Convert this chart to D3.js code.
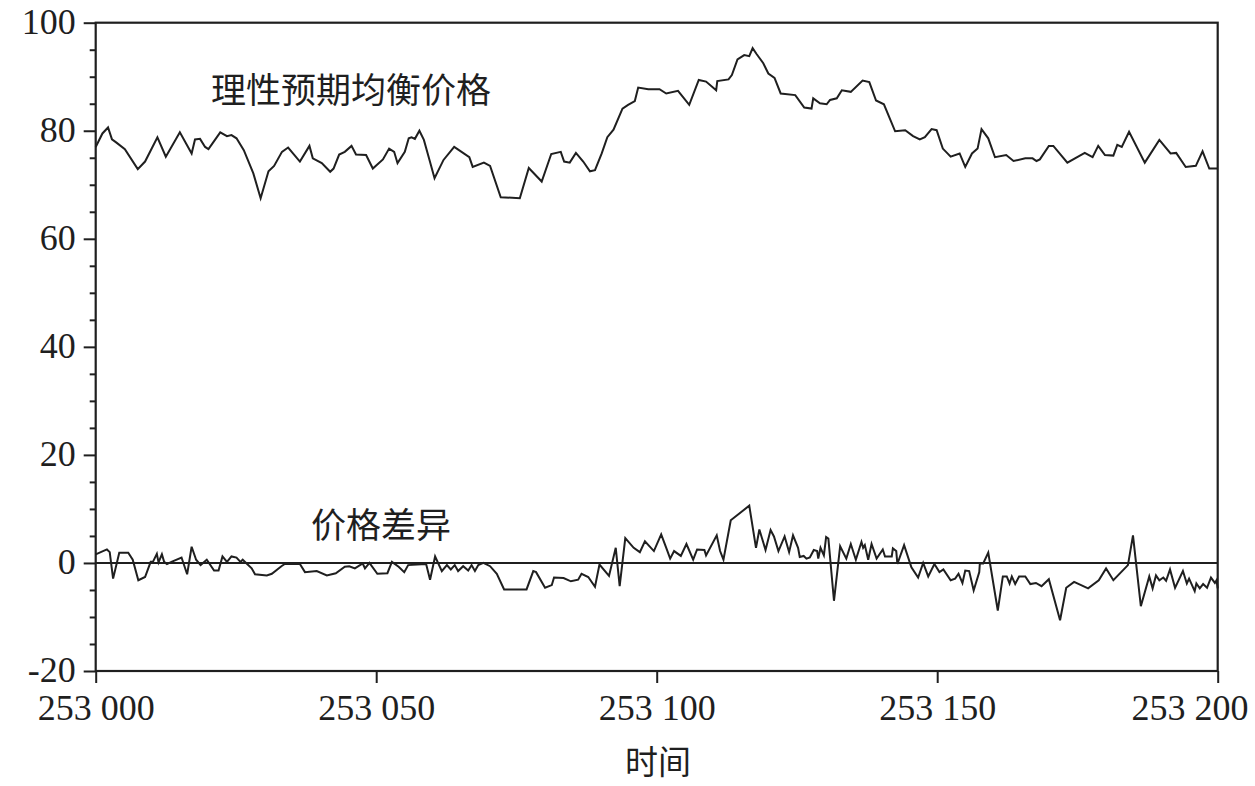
<!DOCTYPE html>
<html>
<head>
<meta charset="utf-8">
<script src="https://cdn.jsdelivr.net/npm/d3@7"></script>
<style>
  html, body { margin: 0; padding: 0; background: #fff; }
  svg { display: block; }
</style>
</head>
<body>
<svg id="chart" width="1255" height="786"></svg>
<script>
// ---------- data ----------
const upperTime = [253000,253001.2,253002.2,253002.9,253003.7,253005.2,253007.5,253008.8,253011,253012.5,253015,253017.1,253017.7,253018.6,253019.5,253020.1,253022.2,253023.4,253024.2,253025.1,253026.4,253028.1,253029.4,253030.8,253031.8,253033.2,253034.3,253036.4,253038.1,253038.7,253040.3,253041.8,253042.4,253043.4,253044.4,253045.6,253046.4,253048.2,253049.4,253051.2,253052.3,253053.2,253053.8,253055.1,253055.8,253056.3,253056.9,253057.7,253058.5,253059.5,253060.4,253062,253063.9,253066.6,253067.2,253069.2,253070.3,253072.2,253075.6,253077.2,253079.5,253081.2,253082.9,253083.5,253084.5,253085.6,253086.9,253088.1,253089,253090.2,253091.2,253092.3,253093.9,253094.9,253096.1,253096.7,253098.5,253100.5,253101.7,253103.8,253105.8,253107.5,253108.8,253110.6,253110.8,253112.8,253113.4,253114.4,253115.6,253116.5,253117.1,253117.8,253119,253119.9,253121,253122.1,253124.7,253126.3,253127.6,253127.9,253129.1,253130.3,253130.9,253132.1,253133,253134.6,253136.7,253137.9,253139.1,253140.5,253142.5,253144.3,253145.7,253146.9,253147.8,253149,253149.9,253151,253152.4,253154,253155,253156.2,253157.2,253157.9,253159.1,253160.3,253162.3,253163.6,253165.7,253167,253167.7,253168.3,253169.9,253170.7,253173.2,253176.3,253177.7,253178.7,253179.9,253181.4,253182.1,253182.9,253184.2,253187,253189.6,253191.6,253192.6,253194.3,253196.1,253197.3,253198.5,253200];
const upperValue = [77.0,79.5,80.6,78.4,77.8,76.6,72.9,74.3,78.8,75.2,79.7,75.8,78.4,78.5,77.0,76.6,79.7,79.0,79.2,78.6,76.4,72.1,67.5,72.5,73.5,76.1,76.9,74.3,77.2,74.9,74.0,72.4,73.0,75.6,76.1,77.2,75.6,75.5,73.0,74.7,76.7,76.1,74.0,76.1,78.6,78.8,78.5,80.0,78.3,74.6,71.2,74.6,77.0,75.1,73.3,74.1,73.5,67.7,67.5,73.1,70.6,75.7,76.1,74.3,74.1,75.9,74.3,72.5,72.7,75.8,78.8,80.2,84.1,84.8,85.5,88.0,87.7,87.7,86.9,87.4,84.8,89.4,89.1,87.5,89.2,89.5,90.3,93.2,94.0,93.8,95.3,94.2,92.5,90.6,89.8,86.9,86.6,84.3,84.1,86.0,85.1,84.9,85.7,86.0,87.5,87.2,89.3,89.0,85.6,84.9,79.9,80.1,79.0,78.4,78.8,80.3,80.1,76.7,75.2,75.8,73.3,75.8,76.7,80.3,78.6,75.1,75.5,74.4,74.9,74.9,74.4,74.7,77.2,77.2,74.1,75.9,75.1,77.2,75.5,75.4,77.4,77.0,79.8,74.1,78.3,75.8,75.9,73.3,73.5,76.2,73.0,73.0];

const diffTime = [253000,253002,253002.5,253003.1,253004.2,253005.8,253006.6,253007.6,253008.8,253009.8,253010.2,253010.9,253011.2,253011.8,253012.2,253012.7,253013.5,253015.3,253016.3,253017.1,253017.9,253018.7,253019.8,253021.1,253021.9,253022.6,253023.4,253024.2,253025.1,253025.8,253026.2,253026.9,253027.8,253028.4,253030.5,253031.4,253033.1,253033.7,253036.4,253037.3,253039.4,253041.2,253042.8,253044.4,253045.2,253046.2,253047.6,253048,253048.8,253050.2,253052,253052.8,253054,253055,253055.7,253058.9,253059.6,253060.5,253061.7,253062.6,253063.3,253064,253064.6,253065.5,253066.4,253067,253067.6,253068.2,253069.1,253070.3,253071.5,253072.8,253076.8,253078,253078.5,253080.1,253081.3,253081.7,253083.4,253084.7,253086,253086.6,253087.8,253089,253089.8,253091.5,253092.7,253093.4,253094.4,253095.9,253097,253097.9,253099.5,253100.8,253101.8,253102.4,253103.1,253104.3,253105.3,253106.5,253107.2,253108.5,253108.8,253110.7,253111.3,253111.9,253113.2,253116.5,253117.7,253118.3,253119.4,253120.3,253120.9,253121.7,253122.8,253123.6,253124.3,253125.2,253125.5,253126.2,253126.7,253127.3,253128,253128.6,253128.8,253129.2,253129.8,253130.2,253130.6,253131.6,253132.7,253133.8,253134.6,253135.5,253136.5,253136.8,253137.1,253137.7,253138.3,253139.2,253140.3,253140.7,253141.9,253142.1,253142.7,253142.9,253144.1,253145.4,253146.6,253147.5,253148.4,253149.5,253150.4,253151.1,253152.4,253153.2,253153.8,253154.5,253155,253155.7,253156.5,253157.5,253157.6,253158.2,253159.1,253160.8,253161.7,253162.4,253162.9,253163.3,253163.9,253164.6,253165.7,253166.6,253167.6,253168.6,253169.9,253171.9,253173,253174.4,253176.9,253178.8,253180.1,253181.4,253184,253184.9,253186.3,253187.8,253188.4,253189,253189.6,253190.3,253190.8,253191.5,253192.4,253193.8,253194.5,253194.9,253195.9,253196.2,253196.8,253197.4,253198.1,253198.8,253199.5,253199.8,253200];
const diffValue = [1.6,2.5,2.0,-2.9,1.9,1.9,0.6,-3.2,-2.6,0.2,0.2,1.7,0.1,1.6,0.2,-0.2,0.2,1.0,-2.1,3.0,0.6,-0.4,0.6,-1.4,-1.4,1.2,0.2,1.2,1.0,0.2,0.6,-0.1,-1.0,-2.1,-2.3,-2.0,-0.6,-0.2,-0.2,-1.7,-1.5,-2.3,-1.9,-0.7,-0.6,-1.0,-0.1,-1.0,0.0,-2.0,-1.9,0.2,-0.7,-1.7,-0.4,-0.2,-3.1,1.2,-1.5,-0.4,-1.2,-0.4,-1.5,-0.6,-1.4,-0.4,-1.5,-0.4,0.0,-0.6,-2.0,-4.9,-4.9,-1.5,-1.7,-4.6,-4.1,-2.7,-2.8,-3.4,-3.1,-2.0,-2.6,-4.4,-0.3,-2.4,2.8,-4.3,4.6,2.8,2.0,4.0,2.2,5.3,2.5,0.8,2.2,1.3,3.5,0.6,2.5,2.4,1.4,5.1,2.2,0.6,7.9,10.6,2.8,6.2,2.4,6.1,4.9,2.2,4.9,2.0,5.1,2.8,1.1,1.3,0.8,1.0,2.4,2.2,0.8,2.8,1.4,4.8,4.5,-7.0,3.1,0.8,3.5,0.6,3.9,2.8,3.3,0.6,3.5,0.8,2.5,1.2,1.2,2.7,2.2,-0.2,3.3,-0.8,-2.7,0.0,-2.5,-0.2,-1.7,-1.2,-3.2,-2.9,-2.0,-3.7,-1.4,-1.5,-5.1,-1.7,-0.1,-0.1,1.9,-8.8,-2.5,-2.5,-3.8,-2.5,-3.9,-2.5,-2.5,-3.9,-3.7,-4.3,-3.0,-10.6,-4.6,-3.5,-4.7,-3.2,-1.0,-3.2,-0.4,5.1,-8.0,-2.5,-4.7,-2.3,-3.2,-2.7,-3.3,-1.2,-4.6,-1.5,-3.8,-2.9,-5.2,-3.8,-4.7,-3.9,-4.6,-2.7,-3.7,-3.2,-4.7];

const xTicks = [253000, 253050, 253100, 253150, 253200];
const yTicks = [-20, 0, 20, 40, 60, 80, 100];
const yMinorTicks = [-15,-10,-5,5,10,15,25,30,35,45,50,55,65,70,75,85,90,95];
const xDomain = [253000, 253200];
const yDomain = [-20, 100];
const labelUpper = "理性预期均衡价格";
const labelDiff = "价格差异";
const labelX = "时间";

// ---------- layout ----------
const svg = d3.select("#chart");
const W = 1255;
const L = 95.7, R = 1217.7, T = 22.7, B = 671;
const ink = "#1f1f1f";
const numFont = "'Liberation Serif', 'Times New Roman', serif";
const cjkFont = "'Noto Sans CJK SC', sans-serif";

const x = d3.scaleLinear().domain(xDomain).range([L, R]);
const y = d3.scaleLinear().domain(yDomain).range([B, T]);

const fmtX = d3.formatLocale({decimal: ".", thousands: " ", grouping: [3], currency: ["", ""]}).format(",");

// y axis major
const yAxis = svg.append("g").attr("transform", `translate(${L},0)`)
  .call(d3.axisLeft(y).tickValues(yTicks).tickSize(12).tickPadding(8).tickFormat(d => String(d)));
yAxis.select(".domain").remove();
yAxis.selectAll(".tick line").attr("stroke", ink).attr("stroke-width", 2);
yAxis.selectAll(".tick text")
  .attr("font-family", numFont).attr("font-size", 36).attr("fill", ink)
  .attr("dy", "0.3em");

// y axis minor
const yMinor = svg.append("g").attr("transform", `translate(${L},0)`)
  .call(d3.axisLeft(y).tickValues(yMinorTicks).tickSize(6).tickFormat(""));
yMinor.select(".domain").remove();
yMinor.selectAll(".tick line").attr("stroke", ink).attr("stroke-width", 2);

// x axis
const xAxis = svg.append("g").attr("transform", `translate(0,${B})`)
  .call(d3.axisBottom(x).tickValues(xTicks).tickSize(12).tickPadding(6).tickFormat(fmtX));
xAxis.select(".domain").remove();
xAxis.selectAll(".tick line").attr("stroke", ink).attr("stroke-width", 2);
xAxis.selectAll(".tick text")
  .attr("font-family", numFont).attr("font-size", 36).attr("fill", ink)
  .attr("dy", "0.85em");
// keep the last label inside the page, as in the reference
xAxis.selectAll(".tick text").filter(d => d === xDomain[1])
  .attr("text-anchor", "end").attr("x", (W - 7) - R);

// frame
svg.append("rect")
  .attr("x", L).attr("y", T).attr("width", R - L).attr("height", B - T)
  .attr("fill", "none").attr("stroke", ink).attr("stroke-width", 2.2);

// zero line
svg.append("line")
  .attr("x1", x(xDomain[0])).attr("x2", x(xDomain[1]))
  .attr("y1", y(0)).attr("y2", y(0))
  .attr("stroke", ink).attr("stroke-width", 2);

// series
const line = d3.line().x(d => x(d[0])).y(d => y(d[1]));
svg.append("path")
  .datum(upperTime.map((t, i) => [t, upperValue[i]]))
  .attr("d", line).attr("fill", "none").attr("stroke", ink)
  .attr("stroke-width", 2).attr("stroke-linejoin", "miter");
svg.append("path")
  .datum(diffTime.map((t, i) => [t, diffValue[i]]))
  .attr("d", line).attr("fill", "none").attr("stroke", ink)
  .attr("stroke-width", 2).attr("stroke-linejoin", "miter");

// labels
svg.append("text").text(labelUpper)
  .attr("x", 211).attr("y", 87).attr("dominant-baseline", "central")
  .attr("font-family", cjkFont).attr("font-size", 35).attr("fill", ink);
svg.append("text").text(labelDiff)
  .attr("x", 311).attr("y", 522).attr("dominant-baseline", "central")
  .attr("font-family", cjkFont).attr("font-size", 35).attr("fill", ink);
svg.append("text").text(labelX)
  .attr("x", 658).attr("y", 760).attr("text-anchor", "middle")
  .attr("dominant-baseline", "central")
  .attr("font-family", cjkFont).attr("font-size", 33).attr("fill", ink);
</script>
</body>
</html>
